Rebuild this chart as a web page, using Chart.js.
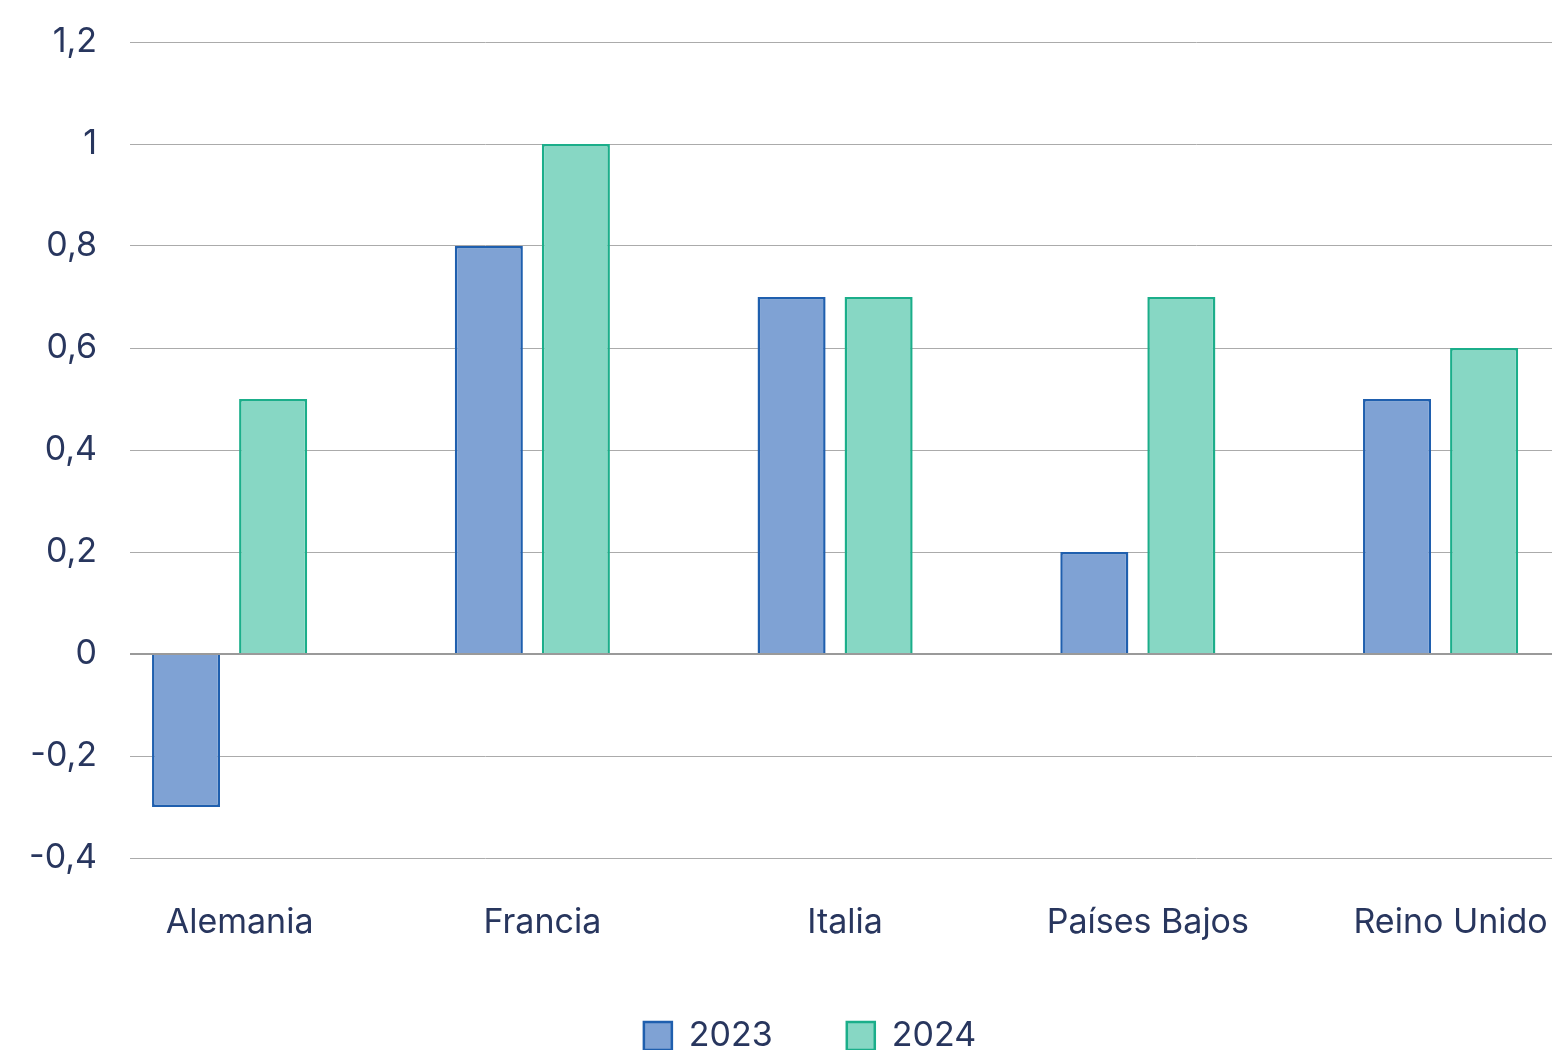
<!DOCTYPE html>
<html>
<head>
<meta charset="utf-8">
<script src="https://cdn.jsdelivr.net/npm/chart.js@4/dist/chart.umd.min.js"></script>
<style>
  html, body { margin: 0; padding: 0; background: #fff; overflow: hidden; }
  #wrap { width: 1552px; height: 1050px; position: relative; }
</style>
</head>
<body>
<div id="wrap"><canvas id="my-chart"></canvas></div>
<script>
// datos
var paises = ["Alemania", "Francia", "Italia", "Países Bajos", "Reino Unido"];
var valores2023 = [-0.3, 0.8, 0.7, 0.2, 0.5];
var valores2024 = [0.5, 1.0, 0.7, 0.7, 0.6];
var yTicks = [-0.4, -0.2, 0, 0.2, 0.4, 0.6, 0.8, 1, 1.2];

var textColor = "#28365e";
var fontFamily = "Inter, 'Noto Sans', sans-serif";

function toPoints(values) {
  var pts = [];
  for (var i in values) {
    pts.push({ x: Number(i), y: values[i] });
  }
  return pts;
}

var chartdata = {
  datasets: [
    {
      label: "2023",
      backgroundColor: "#7fa2d4",
      borderColor: "#1f5fae",
      borderWidth: 2.5,
      data: toPoints(valores2023)
    },
    {
      label: "2024",
      backgroundColor: "#87d7c4",
      borderColor: "#1bae8a",
      borderWidth: 2.5,
      data: toPoints(valores2024)
    }
  ]
};

var ctx = document.getElementById("my-chart");

var barChart = new Chart(ctx, {
  type: "bar",
  data: chartdata,
  options: {
    responsive: true,
    maintainAspectRatio: false,
    animation: false,
    categoryPercentage: 0.575,
    barPercentage: 0.782,
    layout: {
      // la leyenda queda centrada algo a la derecha, como en el original
      padding: { top: 42, left: 0, right: -68, bottom: -13 }
    },
    plugins: {
      tooltip: { enabled: false },
      legend: {
        position: "bottom",
        labels: {
          color: textColor,
          font: { family: fontFamily, size: 34 },
          boxWidth: 28,
          boxHeight: 28,
          padding: 74
        }
      }
    },
    scales: {
      x: {
        type: "linear",
        offset: false,
        min: -0.329,
        max: 4.368,
        grid: { display: false, drawTicks: false },
        border: { display: false },
        afterBuildTicks: function(scale) {
          scale.ticks = paises.map(function(p, i) { return { value: i }; });
        },
        afterFit: function(scale) {
          scale.height = 87;
          scale.paddingLeft = 0;
          scale.paddingRight = 0;
        },
        ticks: {
          color: textColor,
          font: { family: fontFamily, size: 34 },
          padding: 44,
          labelOffset: 10,
          maxRotation: 0,
          autoSkip: false,
          callback: function(value) {
            return paises[value];
          }
        }
      },
      y: {
        min: -0.4,
        max: 1.2,
        afterBuildTicks: function(scale) {
          scale.ticks = yTicks.map(function(v) { return { value: v }; });
        },
        afterFit: function(scale) {
          scale.width = 130;
          scale.paddingTop = 20;
          scale.paddingBottom = 20;
        },
        grid: {
          drawTicks: false,
          color: function(c) { return c.tick && c.tick.value === 0 ? "#9a9a9a" : "#ababab"; },
          lineWidth: function(c) { return c.tick && c.tick.value === 0 ? 2 : 1; }
        },
        border: { display: false },
        ticks: {
          color: textColor,
          font: { family: fontFamily, size: 34 },
          padding: 33,
          callback: function(value) {
            return String(Math.round(value * 10) / 10).replace(".", ",");
          }
        }
      }
    }
  }
});
</script>
</body>
</html>
